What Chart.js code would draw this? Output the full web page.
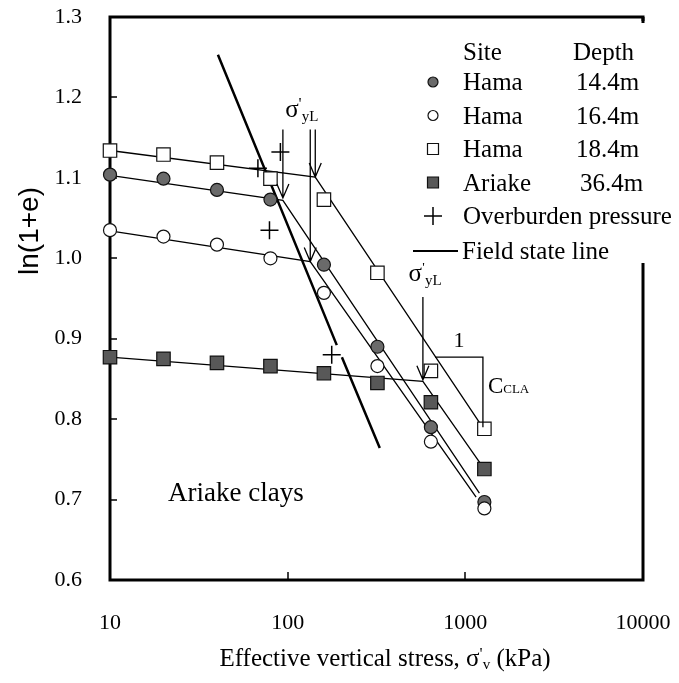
<!DOCTYPE html>
<html>
<head>
<meta charset="utf-8">
<script src="https://cdn.jsdelivr.net/npm/chart.js@4.4.1/dist/chart.umd.min.js"></script>
<style>
html, body { margin: 0; padding: 0; background: #fff; }
canvas { display: block; }
</style>
</head>
<body>
<canvas id="chart" width="679" height="683"></canvas>
<script>
// consolidation data, ln(1+e) vs effective vertical stress (kPa)
const stress = [10, 20, 40, 80, 160, 320, 640, 1280];
const hama144 = [1.104, 1.099, 1.085, 1.073, 0.992, 0.890, 0.790, 0.697];
const hama164 = [1.035, 1.027, 1.017, 1.000, 0.957, 0.866, 0.772, 0.689];
const hama184 = [1.134, 1.129, 1.119, 1.099, 1.073, 0.982, 0.860, 0.788];
const ariake364 = [0.877, 0.875, 0.870, 0.866, 0.857, 0.845, 0.821, 0.738];

// overburden pressure crosses
const overX = [68, 91, 79, 177];
const overY = [1.112, 1.132, 1.035, 0.880];

// bilinear fit lines
const fit144X = [10, 94, 1200];
const fit144Y = [1.103, 1.072, 0.708];
const fit164X = [10, 134, 1150];
const fit164Y = [1.034, 0.996, 0.703];
const fit184X = [10, 143, 1250];
const fit184Y = [1.134, 1.101, 0.790];
const fitAriX = [10, 577, 1280];
const fitAriY = [0.877, 0.847, 0.738];

// field state line (broken at the cross)
const fieldX = [40.5, 189, 195, 202, 330];
const fieldY = [1.253, 0.892, null, 0.877, 0.764];

// yield stress arrows
const yieldX = [94, 143, 134, 577];
const yieldTop = [1.16, 1.16, 1.16, 0.952];
const yieldTip = [1.075, 1.101, 0.996, 0.849];
const sigmaX = [120, 593];
const sigmaY = [1.185, 0.982];

// slope marker
const slopeX = [675, 1256];
const slopeY = [0.877, 0.790];

const xTicks = [10, 100, 1000, 10000];
const yMin = 0.6, yMax = 1.3;

const legendRows = [
  {site: 'Hama', depth: '14.4m', mark: 'dot'},
  {site: 'Hama', depth: '16.4m', mark: 'ring'},
  {site: 'Hama', depth: '18.4m', mark: 'box'},
  {site: 'Ariake', depth: '36.4m', mark: 'block'}
];

const SERIF = '"Liberation Serif", "Times New Roman", serif';
const GREY = '#6a6a6a';
const DARK = '#585858';

function pts(xs, ys) {
  return xs.map((x, i) => ({x: x, y: ys[i]}));
}

function rich(ctx, x, y, parts, align) {
  let w = 0;
  parts.forEach(p => { ctx.font = p[1] + 'px ' + SERIF; w += ctx.measureText(p[0]).width; });
  let cx = align === 'center' ? x - w / 2 : x;
  ctx.textAlign = 'left';
  ctx.textBaseline = 'alphabetic';
  parts.forEach(p => {
    ctx.font = p[1] + 'px ' + SERIF;
    ctx.fillText(p[0], cx, y + (p[2] || 0));
    cx += ctx.measureText(p[0]).width;
  });
}

function marker(ctx, kind, x, y, s) {
  ctx.save();
  ctx.lineWidth = 1.2;
  ctx.strokeStyle = '#111';
  ctx.beginPath();
  if (kind === 'dot' || kind === 'ring') ctx.arc(x, y, s, 0, Math.PI * 2);
  else ctx.rect(x - s, y - s, 2 * s, 2 * s);
  ctx.fillStyle = kind === 'dot' ? GREY : kind === 'block' ? DARK : '#fff';
  ctx.fill();
  ctx.stroke();
  ctx.restore();
}

const fitLine = (xs, ys, w) => ({
  data: pts(xs, ys),
  showLine: true,
  spanGaps: false,
  borderColor: '#000',
  borderWidth: w,
  pointRadius: 0,
  order: 3
});

const pointSet = (ys, style, r, fill, ord) => ({
  data: pts(stress, ys),
  showLine: false,
  pointStyle: style,
  pointRadius: r,
  pointBackgroundColor: fill,
  pointBorderColor: '#111',
  pointBorderWidth: 1.2,
  order: ord
});

const framePlugin = {
  id: 'frame',
  beforeDatasetsDraw(chart) {
    const {ctx, chartArea: a, scales} = chart;
    ctx.save();
    ctx.strokeStyle = '#000';
    ctx.lineWidth = 3;
    ctx.strokeRect(a.left, a.top, a.right - a.left, a.bottom - a.top);
    ctx.lineWidth = 1.5;
    ctx.beginPath();
    for (let v = 0.7; v < 1.25; v += 0.1) {
      const y = Math.round(scales.y.getPixelForValue(v));
      ctx.moveTo(a.left, y);
      ctx.lineTo(a.left + 7, y);
    }
    [100, 1000].forEach(v => {
      const x = Math.round(scales.x.getPixelForValue(v));
      ctx.moveTo(x, a.bottom);
      ctx.lineTo(x, a.bottom - 8);
    });
    ctx.stroke();
    ctx.restore();
  },
  afterDatasetsDraw(chart) {
    const {ctx, chartArea: a, scales} = chart;
    const X = v => scales.x.getPixelForValue(v);
    const Y = v => scales.y.getPixelForValue(v);
    ctx.save();
    ctx.strokeStyle = '#000';
    ctx.fillStyle = '#000';

    // yield arrows
    ctx.lineWidth = 1.3;
    yieldX.forEach((v, i) => {
      const x = X(v), y0 = Y(yieldTop[i]), y1 = Y(yieldTip[i]);
      ctx.beginPath();
      ctx.moveTo(x, y0);
      ctx.lineTo(x, y1);
      ctx.moveTo(x - 6, y1 - 14);
      ctx.lineTo(x, y1);
      ctx.lineTo(x + 6, y1 - 14);
      ctx.stroke();
    });
    sigmaX.forEach((v, i) => {
      rich(ctx, X(v), Y(sigmaY[i]) + 8, [['σ', 25, 0], ['\'', 17, -8], ['yL', 15, 4]], 'center');
    });

    // slope marker
    ctx.beginPath();
    ctx.moveTo(X(slopeX[0]), Y(slopeY[0]));
    ctx.lineTo(X(slopeX[1]), Y(slopeY[0]));
    ctx.lineTo(X(slopeX[1]), Y(slopeY[1]));
    ctx.stroke();
    const mx = Math.sqrt(slopeX[0] * slopeX[1]);
    rich(ctx, X(mx), Y(slopeY[0]) - 10, [['1', 22, 0]], 'center');
    rich(ctx, X(slopeX[1]) + 5, Y(slopeY[0]) + 36, [['C', 23, 0], ['CLA', 13, 0]], 'left');

    rich(ctx, X(21.2), Y(0.709) + 9, [['Ariake clays', 27, 0]], 'left');

    // legend box (hides the right border behind it)
    const lx = a.right - 223, ly = a.top + 4;
    ctx.fillStyle = '#fff';
    ctx.fillRect(lx - 10, ly, 679 - lx + 10, 242);
    ctx.fillStyle = '#000';
    ctx.strokeStyle = '#000';
    ctx.lineWidth = 3;
    ctx.beginPath();
    ctx.moveTo(a.right, a.top);
    ctx.lineTo(a.right, a.top + 6);
    ctx.stroke();
    const mX = lx + 13, tX = lx + 43, dX = lx + 156;
    rich(ctx, tX, ly + 39, [['Site', 25, 0]], 'left');
    rich(ctx, dX - 3, ly + 39, [['Depth', 25, 0]], 'left');
    legendRows.forEach((r, i) => {
      const cy = ly + 61 + i * 33.5;
      const sz = r.mark === 'dot' || r.mark === 'ring' ? 5 : 5.5;
      marker(ctx, r.mark, mX, cy, sz);
      rich(ctx, tX, cy + 8, [[r.site, 25, 0]], 'left');
      rich(ctx, dX + (i === 3 ? 4 : 0), cy + 8, [[r.depth, 25, 0]], 'left');
    });
    const oy = ly + 61 + 4 * 33.5;
    ctx.lineWidth = 1.5;
    ctx.beginPath();
    ctx.moveTo(mX - 9, oy);
    ctx.lineTo(mX + 9, oy);
    ctx.moveTo(mX, oy - 9);
    ctx.lineTo(mX, oy + 9);
    ctx.stroke();
    rich(ctx, tX, oy + 8, [['Overburden pressure', 25, 0]], 'left');
    const fy = oy + 35;
    ctx.lineWidth = 2;
    ctx.beginPath();
    ctx.moveTo(lx - 7, fy);
    ctx.lineTo(tX - 5, fy);
    ctx.stroke();
    rich(ctx, tX - 1, fy + 8, [['Field state line', 25, 0]], 'left');

    // axis titles
    rich(ctx, 385, 666, [['Effective vertical stress, σ', 25, 0], ['\'', 17, -7], ['v', 15, 3], [' (kPa)', 25, 0]], 'center');
    ctx.save();
    ctx.translate(38, 231);
    ctx.rotate(-Math.PI / 2);
    ctx.font = '28px "Liberation Sans", Arial, sans-serif';
    ctx.textAlign = 'center';
    ctx.textBaseline = 'alphabetic';
    ctx.fillText('ln(1+e)', 0, 0);
    ctx.restore();
    ctx.restore();
  }
};

new Chart(document.getElementById('chart'), {
  type: 'scatter',
  data: {
    datasets: [
      pointSet(hama144, 'circle', 6.5, GREY, 2),
      pointSet(hama164, 'circle', 6.5, '#fff', 1),
      pointSet(hama184, 'rect', 9.5, '#fff', 1),
      pointSet(ariake364, 'rect', 9.5, DARK, 1),
      {
        data: pts(overX, overY),
        showLine: false,
        pointStyle: 'cross',
        pointRadius: 9,
        pointBorderColor: '#000',
        pointBorderWidth: 1.5,
        order: 1
      },
      fitLine(fit144X, fit144Y, 1.3),
      fitLine(fit164X, fit164Y, 1.3),
      fitLine(fit184X, fit184Y, 1.3),
      fitLine(fitAriX, fitAriY, 1.3),
      fitLine(fieldX, fieldY, 2.5)
    ]
  },
  options: {
    responsive: false,
    animation: false,
    devicePixelRatio: 1,
    clip: false,
    layout: {padding: {top: 17, right: 36, left: 0, bottom: 0}},
    plugins: {legend: {display: false}, tooltip: {enabled: false}},
    scales: {
      x: {
        type: 'logarithmic',
        min: 10,
        max: 10000,
        afterBuildTicks: s => { s.ticks = xTicks.map(v => ({value: v})); },
        afterFit: s => { s.height = 103; s.paddingLeft = 0; s.paddingRight = 0; },
        grid: {display: false, drawTicks: false},
        border: {display: false},
        ticks: {
          callback: v => String(v),
          maxRotation: 0,
          autoSkip: false,
          padding: 30,
          color: '#000',
          font: {family: SERIF, size: 22}
        }
      },
      y: {
        min: yMin,
        max: yMax,
        afterFit: s => { s.width = 110; s.paddingTop = 0; s.paddingBottom = 0; },
        grid: {display: false, drawTicks: false},
        border: {display: false},
        ticks: {
          stepSize: 0.1,
          callback: v => v.toFixed(1),
          padding: 28,
          color: '#000',
          font: {family: SERIF, size: 22}
        }
      }
    }
  },
  plugins: [framePlugin]
});
</script>
</body>
</html>
